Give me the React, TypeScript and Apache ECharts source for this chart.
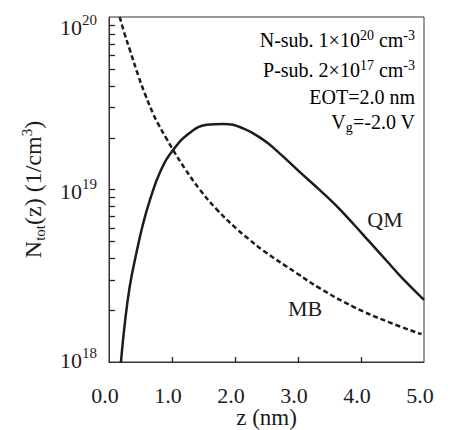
import React, { useEffect, useRef } from "react";
import * as echarts from "echarts";

// QM (solid) curve: depth z (nm) and total carrier density (1/cm^3)
const qmZ = [0.19, 0.25, 0.33, 0.44, 0.54, 0.65, 0.81, 1.02, 1.29, 1.55, 1.81, 2.13, 2.45, 2.66, 3.03, 3.35, 3.61, 3.88, 4.14, 4.41, 4.67, 5.0];
const qmN = [1.0e18, 1.66e18, 2.75e18, 4.37e18, 6.31e18, 8.71e18, 1.26e19, 1.7e19, 2.14e19, 2.37e19, 2.4e19, 2.26e19, 1.94e19, 1.68e19, 1.26e19, 9.89e18, 8.04e18, 6.31e18, 4.95e18, 3.85e18, 3.02e18, 2.29e18];

// MB (dashed) curve
const mbZ = [0.17, 0.25, 0.33, 0.47, 0.57, 0.7, 0.78, 0.92, 1.05, 1.2, 1.44, 1.71, 2.03, 2.21, 2.45, 2.98, 3.35, 3.88, 4.41, 4.96];
const mbN = [1.0e20, 7.94e19, 6.46e19, 4.51e19, 3.59e19, 2.75e19, 2.4e19, 1.95e19, 1.62e19, 1.33e19, 1.0e19, 7.67e18, 5.89e18, 5.19e18, 4.42e18, 3.27e18, 2.67e18, 2.09e18, 1.72e18, 1.45e18];

// Axes
const xMin = 0;
const xMax = 5;
const xInterval = 1;
const xTickMarks = [1, 2, 3, 4];
const yMin = 1e18;
const yMax = 1e20;
const yTicks = [
  2e18, 3e18, 4e18, 5e18, 6e18, 7e18, 8e18, 9e18,
  1e19, 2e19, 3e19, 4e19, 5e19, 6e19, 7e19, 8e19, 9e19,
];

// Texts
const annotLines = [
  "{n|N-sub. 1×10}{sup|20}{n| cm}{sup|-3}",
  "{n|P-sub. 2×10}{sup|17}{n| cm}{sup|-3}",
  "{n|EOT=2.0 nm}",
  "{n|V}{sub|g}{n|=-2.0 V}",
];
const annotY = [40, 70, 97, 122];
const seriesNames = ["QM", "MB"];

const serif = "'Liberation Serif', 'Times New Roman', serif";
const ink = "#1c1c1c";
const axisColor = "#333";

export default function App() {
  const ref = useRef<HTMLDivElement>(null);
  useEffect(() => {
    const chart = echarts.init(ref.current!, null, { renderer: "svg" });
    const annotRich = {
      n: { fontSize: 20, fontFamily: serif, color: ink, lineHeight: 24, verticalAlign: "middle" },
      sup: { fontSize: 14, fontFamily: serif, color: ink, lineHeight: 14, verticalAlign: "top" },
      sub: { fontSize: 14, fontFamily: serif, color: ink, lineHeight: 14, verticalAlign: "bottom" },
    };
    const crisp = (v: number) => Math.round(v) + 0.5;
    const option: any = {
      animation: false,
      backgroundColor: "#ffffff",
      grid: {
        left: 109,
        right: 29,
        top: 17,
        bottom: 68,
        show: true,
        borderColor: axisColor,
        borderWidth: 1,
        outerBoundsMode: "none",
      },
      xAxis: {
        type: "value",
        min: xMin,
        max: xMax,
        interval: xInterval,
        axisLine: { show: true, lineStyle: { color: axisColor, width: 1 } },
        axisTick: { show: false },
        axisLabel: {
          formatter: (v: number) => v.toFixed(1),
          fontSize: 22,
          fontFamily: serif,
          color: ink,
          margin: 22,
          padding: [0, 8, 0, 0],
          showMinLabel: true,
          showMaxLabel: true,
        },
        splitLine: { show: false },
        name: "z (nm)",
        nameLocation: "middle",
        nameGap: 44,
        nameMoveOverlap: false,
        nameTextStyle: { fontSize: 23, fontFamily: serif, color: ink },
      },
      yAxis: {
        type: "log",
        logBase: 10,
        min: yMin,
        max: yMax,
        axisLine: { show: true, lineStyle: { color: axisColor, width: 1 } },
        axisTick: { show: false },
        minorTick: { show: false },
        splitLine: { show: false },
        axisLabel: {
          margin: 12,
          formatter: (v: number) => {
            const e = Math.round(Math.log10(v));
            if (e === 20) return "{gt| }\n{b|10}{s|20}";
            if (e === 18) return "{b|10}{s|18}\n{gb| }";
            return "{b|10}{s|" + e + "}";
          },
          rich: {
            b: { fontSize: 22, fontFamily: serif, color: ink, lineHeight: 26, verticalAlign: "bottom" },
            s: { fontSize: 15, fontFamily: serif, color: ink, lineHeight: 15, verticalAlign: "top" },
            gt: { fontSize: 10, lineHeight: 17 },
            gb: { fontSize: 8, lineHeight: 8 },
          },
        },
        name: "{n|N}{sub|tot}{n|(z) (1/cm}{sup|3}{n|)}",
        nameLocation: "middle",
        nameGap: 62,
        nameMoveOverlap: false,
        nameRotate: 90,
        nameTextStyle: {
          rich: {
            n: { fontSize: 24, fontFamily: serif, color: ink, lineHeight: 28, verticalAlign: "middle" },
            sub: { fontSize: 15, fontFamily: serif, color: ink, lineHeight: 15, verticalAlign: "bottom" },
            sup: { fontSize: 15, fontFamily: serif, color: ink, lineHeight: 15, verticalAlign: "top" },
          },
        },
      },
      series: [
        {
          name: seriesNames[0],
          type: "line",
          data: qmZ.map((z, i) => [z, qmN[i]]),
          symbol: "none",
          smooth: 0.45,
          clip: true,
          lineStyle: { color: ink, width: 2.5 },
          z: 3,
        },
        {
          name: seriesNames[1],
          type: "line",
          data: mbZ.map((z, i) => [z, mbN[i]]),
          symbol: "none",
          smooth: 0.45,
          clip: true,
          lineStyle: { color: ink, width: 2.5, type: [5, 3] },
          z: 3,
        },
        {
          // inward tick marks on the left (logarithmic) axis
          type: "custom",
          silent: true,
          clip: false,
          data: yTicks.map((v) => [xMin, v]),
          renderItem: (params: any, api: any) => {
            const p = api.coord([api.value(0), api.value(1)]);
            const y = crisp(p[1]);
            return {
              type: "line",
              shape: { x1: p[0], y1: y, x2: p[0] + 6, y2: y },
              style: { stroke: "#222", lineWidth: 1.3 },
            };
          },
          z: 4,
        },
        {
          // inward tick marks on the bottom axis
          type: "custom",
          silent: true,
          clip: false,
          data: xTickMarks.map((v) => [v, yMin]),
          renderItem: (params: any, api: any) => {
            const p = api.coord([api.value(0), api.value(1)]);
            const x = crisp(p[0]);
            return {
              type: "line",
              shape: { x1: x, y1: p[1], x2: x, y2: p[1] - 5 },
              style: { stroke: "#222", lineWidth: 1.3 },
            };
          },
          z: 4,
        },
      ],
      graphic: [
        ...annotLines.map((t, i) => ({
          type: "text",
          x: 415,
          y: annotY[i],
          style: {
            text: t,
            rich: annotRich,
            align: "right",
            verticalAlign: "middle",
            textAlign: "right",
            textVerticalAlign: "middle",
          },
        })),
        {
          type: "text",
          x: 385,
          y: 219,
          style: {
            text: seriesNames[0],
            font: "22px " + serif,
            fill: ink,
            align: "center",
            verticalAlign: "middle",
            textAlign: "center",
            textVerticalAlign: "middle",
          },
        },
        {
          type: "text",
          x: 305,
          y: 308,
          style: {
            text: seriesNames[1],
            font: "22px " + serif,
            fill: ink,
            align: "center",
            verticalAlign: "middle",
            textAlign: "center",
            textVerticalAlign: "middle",
          },
        },
      ],
    };
    chart.setOption(option);
    return () => chart.dispose();
  }, []);
  return (
    <div
      ref={ref}
      style={{ position: "fixed", left: 0, top: 0, width: 453, height: 430, background: "#fff" }}
    />
  );
}
